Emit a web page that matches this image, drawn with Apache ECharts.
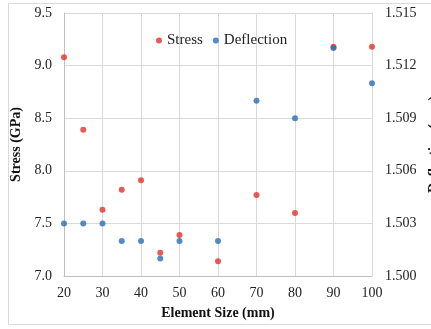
<!DOCTYPE html>
<html><head><meta charset="utf-8">
<script src="https://cdn.jsdelivr.net/npm/echarts@6/dist/echarts.min.js"></script>
<style>html,body{margin:0;padding:0;background:#fff}#c{width:431px;height:329px}</style>
</head><body><div id="c"></div>
<script>
const elementSize = [20, 25, 30, 35, 40, 45, 50, 60, 70, 80, 90, 100];
const stress = [9.08, 8.39, 7.63, 7.82, 7.91, 7.22, 7.39, 7.14, 7.77, 7.60, 9.18, 9.18];
const deflection = [1.503, 1.503, 1.503, 1.502, 1.502, 1.501, 1.502, 1.502, 1.510, 1.509, 1.513, 1.511];

const font = 'Liberation Serif';
const chart = echarts.init(document.getElementById('c'), null, {renderer: 'canvas'});
chart.setOption({
  animation: false,
  textStyle: {fontFamily: font},
  graphic: [{type: 'rect', shape: {x: 8.5, y: 3.5, width: 430, height: 321}, style: {fill: 'none', stroke: '#d9d9d9', lineWidth: 1}, silent: true}],
  legend: {
    top: 28, left: 151, itemWidth: 6, itemHeight: 6, itemGap: 10,
    icon: 'circle',
    textStyle: {fontFamily: font, fontSize: 15, color: '#222'},
    data: ['Stress', 'Deflection']
  },
  grid: {left: 64, right: 59, top: 13, bottom: 53, containLabel: false, outerBoundsMode: 'none'},
  xAxis: {
    type: 'value', min: 20, max: 100, interval: 10,
    name: 'Element Size (mm)', nameLocation: 'middle', nameGap: 30,
    nameTextStyle: {fontFamily: font, fontSize: 14, fontWeight: 'bold', color: '#111'},
    axisLine: {show: true, lineStyle: {color: '#bfbfbf'}},
    axisTick: {show: false},
    axisLabel: {fontFamily: font, fontSize: 14, color: '#222', margin: 10},
    splitLine: {show: true, lineStyle: {color: '#d9d9d9'}}
  },
  yAxis: [{
    type: 'value', min: 7, max: 9.5, interval: 0.5,
    name: 'Stress (GPa)', nameLocation: 'middle', nameGap: 36,
    nameTextStyle: {fontFamily: font, fontSize: 14, fontWeight: 'bold', color: '#111'},
    axisLine: {show: true, lineStyle: {color: '#bfbfbf'}},
    axisTick: {show: false},
    axisLabel: {fontFamily: font, fontSize: 14, color: '#222', margin: 12, formatter: v => v.toFixed(1)},
    splitLine: {show: true, lineStyle: {color: '#d9d9d9'}}
  }, {
    type: 'value', min: 1.5, max: 1.515, interval: 0.003,
    name: 'Deflection (mm)', nameLocation: 'middle', nameGap: 52, nameRotate: 90,
    nameTextStyle: {fontFamily: font, fontSize: 14, fontWeight: 'bold', color: '#111'},
    axisLine: {show: true, lineStyle: {color: '#d9d9d9'}},
    axisTick: {show: false},
    axisLabel: {fontFamily: font, fontSize: 14, color: '#222', margin: 13, formatter: v => v.toFixed(3)},
    splitLine: {show: false}
  }],
  series: [{
    name: 'Stress', type: 'scatter', yAxisIndex: 0, symbolSize: 6,
    itemStyle: {color: '#e6302a'},
    data: elementSize.map((x, i) => [x, stress[i]])
  }, {
    name: 'Deflection', type: 'scatter', yAxisIndex: 1, symbolSize: 6,
    itemStyle: {color: '#2a6db8'},
    data: elementSize.map((x, i) => [x, deflection[i]])
  }]
});
</script></body></html>
